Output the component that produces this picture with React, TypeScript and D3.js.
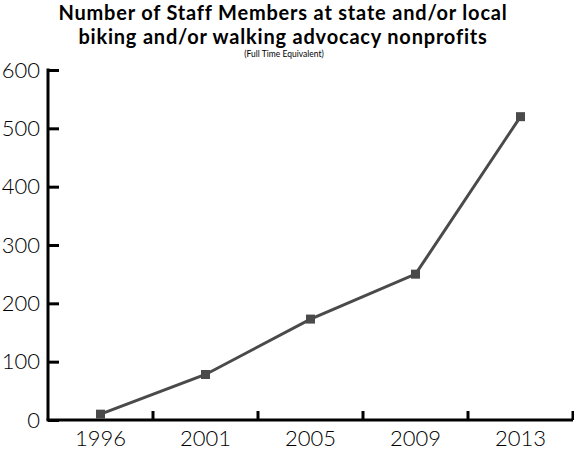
import { useEffect, useRef } from 'react';
import * as d3 from 'd3';

const years = ['1996', '2001', '2005', '2009', '2013'];
const staff = [10, 78, 173, 250, 520];
const yTicks = [0, 100, 200, 300, 400, 500, 600];

const W = 574;
const H = 450;

export default function App() {
  const svgRef = useRef<SVGSVGElement>(null);

  useEffect(() => {
    if (!svgRef.current) return;
    const svg = d3.select(svgRef.current);
    svg.selectAll('*').remove();

    const left = 48;
    const right = 573;
    const top = 70;
    const bottom = 420;

    const x = d3.scaleBand().domain(years).range([left, right]).padding(0);
    const y = d3.scaleLinear().domain([0, 600]).range([bottom, top]);

    const font = "'Century Gothic', 'URW Gothic', Lato, 'Noto Sans', sans-serif";

    // Title
    const title = svg.append('g').attr('font-family', font).attr('text-anchor', 'middle').attr('fill', '#000');
    title.append('text').attr('x', 283).attr('y', 20).attr('font-size', 20).attr('font-weight', 'bold')
      .attr('letter-spacing', 0.8)
      .text('Number of Staff Members at state and/or local');
    title.append('text').attr('x', 283).attr('y', 44).attr('font-size', 20).attr('font-weight', 'bold')
      .attr('letter-spacing', 0.8)
      .text('biking and/or walking advocacy nonprofits');
    title.append('text').attr('x', 284).attr('y', 57).attr('font-size', 8.5).attr('fill', '#000')
      .text('(Full Time Equivalent)');

    // Y axis
    const yAxis = svg.append('g')
      .attr('transform', `translate(${left},0)`)
      .call(d3.axisRight(y).tickValues(yTicks).tickSize(11).tickFormat(d3.format('d')));
    yAxis.select('.domain').attr('stroke', '#000').attr('stroke-width', 3)
      .attr('d', `M0,${top - 1.5}V${bottom}`);
    yAxis.selectAll('.tick line').attr('stroke', '#000').attr('stroke-width', 3);
    yAxis.selectAll('.tick text')
      .attr('x', -8)
      .attr('text-anchor', 'end')
      .attr('font-family', font)
      .attr('font-size', 22)
      .attr('font-weight', 300)
      .attr('fill', '#000');

    // X axis
    const xAxis = svg.append('g').attr('transform', `translate(0,${bottom})`);
    xAxis.append('line')
      .attr('x1', left - 1.5).attr('x2', right)
      .attr('stroke', '#000').attr('stroke-width', 3);
    const bounds = years.map((d) => (x(d) as number) + x.bandwidth());
    xAxis.selectAll('line.tk')
      .data(bounds)
      .enter()
      .append('line')
      .attr('class', 'tk')
      .attr('x1', (d) => d).attr('x2', (d) => d)
      .attr('y1', 0).attr('y2', -9)
      .attr('stroke', '#000').attr('stroke-width', 3);
    xAxis.selectAll('text')
      .data(years)
      .enter()
      .append('text')
      .attr('x', (d) => (x(d) as number) + x.bandwidth() / 2)
      .attr('y', 26)
      .attr('text-anchor', 'middle')
      .attr('font-family', font)
      .attr('font-size', 22)
      .attr('font-weight', 300)
      .attr('fill', '#000')
      .text((d) => d);

    // Line
    const cx = (i: number) => (x(years[i]) as number) + x.bandwidth() / 2;
    const line = d3.line<number>().x((_, i) => cx(i)).y((d) => y(d));
    svg.append('path')
      .datum(staff)
      .attr('d', line)
      .attr('fill', 'none')
      .attr('stroke', '#4a4a4a')
      .attr('stroke-width', 3);

    svg.selectAll('rect.pt')
      .data(staff)
      .enter()
      .append('rect')
      .attr('class', 'pt')
      .attr('x', (_, i) => cx(i) - 4.5)
      .attr('y', (d) => y(d) - 4.5)
      .attr('width', 9)
      .attr('height', 9)
      .attr('fill', '#4a4a4a');
  }, []);

  return (
    <svg
      ref={svgRef}
      width={W}
      height={H}
      style={{ position: 'absolute', left: 0, top: 0, background: '#fff' }}
    />
  );
}
